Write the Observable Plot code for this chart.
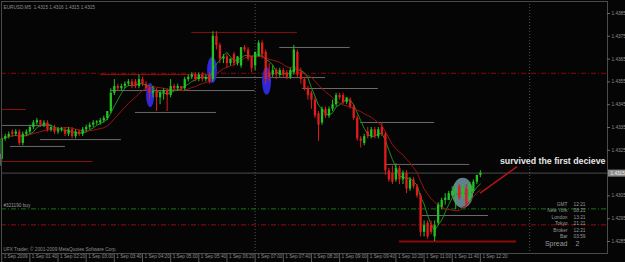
<!DOCTYPE html>
<html>
<head>
<meta charset="utf-8">
<script src="https://cdn.jsdelivr.net/npm/d3@7"></script>
<script src="https://cdn.jsdelivr.net/npm/@observablehq/plot@0.6"></script>
<style>
html, body { margin: 0; padding: 0; background: #050505; overflow: hidden; }
#chart svg { display: block; }
</style>
</head>
<body>
<div id="chart"></div>
<script>
// ---------------- data ----------------
const titleText = "EURUSD,M5  1.4315 1.4316 1.4315 1.4315";
// M5 bars, 1 Sep 2009 01:00 .. 12:20 (137 bars)
const open = [
1.4321,1.4330,1.4331,1.4333,1.4332,1.4333,1.4328,1.4332,1.4333,1.4335,
1.4337,1.4338,1.4336,1.4337,1.4334,1.4335,1.4333,1.4334,1.4334,1.4332,
1.4334,1.4331,1.4333,1.4332,1.4334,1.4335,1.4336,1.4337,1.4337,1.4338,
1.4339,1.4342,1.4350,1.4353,1.4352,1.4353,1.4354,1.4355,1.4355,1.4353,
1.4356,1.4354,1.4352,1.4350,1.4351,1.4348,1.4350,1.4351,1.4349,1.4353,
1.4352,1.4353,1.4352,1.4356,1.4357,1.4358,1.4356,1.4358,1.4356,1.4358,
1.4356,1.4375,1.4371,1.4365,1.4366,1.4363,1.4367,1.4363,1.4362,1.4370,
1.4369,1.4366,1.4362,1.4366,1.4372,1.4368,1.4359,1.4358,1.4360,1.4358,
1.4360,1.4359,1.4357,1.4359,1.4368,1.4359,1.4356,1.4352,1.4350,1.4347,
1.4341,1.4337,1.4343,1.4340,1.4343,1.4345,1.4349,1.4349,1.4346,1.4347,
1.4344,1.4339,1.4330,1.4328,1.4333,1.4331,1.4334,1.4331,1.4335,1.4332,
1.4316,1.4315,1.4312,1.4317,1.4312,1.4315,1.4308,1.4312,1.4309,1.4305,
1.4289,1.4293,1.4292,1.4287,1.4293,1.4300,1.4303,1.4303,1.4305,1.4307,
1.4309,1.4305,1.4308,1.4303,1.4307,1.4311,1.4314];
const high = [
1.4332,1.4332,1.4333,1.4334,1.4334,1.4334,1.4333,1.4334,1.4336,1.4338,
1.4339,1.4338,1.4338,1.4338,1.4336,1.4336,1.4335,1.4335,1.4335,1.4335,
1.4335,1.4334,1.4334,1.4335,1.4336,1.4337,1.4338,1.4338,1.4339,1.4340,
1.4342,1.4352,1.4356,1.4354,1.4354,1.4355,1.4356,1.4356,1.4356,1.4358,
1.4357,1.4355,1.4353,1.4353,1.4352,1.4351,1.4352,1.4352,1.4356,1.4354,
1.4354,1.4353,1.4357,1.4358,1.4359,1.4359,1.4359,1.4359,1.4358,1.4359,
1.4377,1.4377,1.4372,1.4367,1.4367,1.4365,1.4368,1.4366,1.4370,1.4371,
1.4370,1.4366,1.4368,1.4373,1.4373,1.4369,1.4363,1.4362,1.4361,1.4361,
1.4361,1.4360,1.4361,1.4371,1.4369,1.4361,1.4357,1.4353,1.4351,1.4348,
1.4342,1.4344,1.4344,1.4344,1.4347,1.4350,1.4350,1.4350,1.4348,1.4348,
1.4345,1.4340,1.4331,1.4332,1.4335,1.4335,1.4335,1.4335,1.4337,1.4333,
1.4317,1.4318,1.4319,1.4318,1.4316,1.4316,1.4313,1.4313,1.4310,1.4306,
1.4294,1.4294,1.4294,1.4294,1.4302,1.4304,1.4306,1.4307,1.4309,1.4310,
1.4310,1.4310,1.4310,1.4311,1.4312,1.4314,1.4316];
const low = [
1.4320,1.4329,1.4330,1.4331,1.4331,1.4327,1.4327,1.4331,1.4332,1.4334,
1.4336,1.4335,1.4335,1.4333,1.4333,1.4332,1.4332,1.4333,1.4331,1.4331,
1.4330,1.4330,1.4331,1.4331,1.4333,1.4334,1.4335,1.4336,1.4336,1.4337,
1.4338,1.4341,1.4349,1.4351,1.4351,1.4352,1.4353,1.4352,1.4352,1.4352,
1.4353,1.4351,1.4347,1.4348,1.4342,1.4345,1.4347,1.4342,1.4348,1.4351,
1.4351,1.4351,1.4351,1.4355,1.4356,1.4355,1.4355,1.4355,1.4355,1.4354,
1.4355,1.4369,1.4363,1.4363,1.4361,1.4362,1.4362,1.4362,1.4361,1.4368,
1.4364,1.4359,1.4360,1.4366,1.4365,1.4354,1.4355,1.4357,1.4356,1.4357,
1.4357,1.4356,1.4356,1.4358,1.4357,1.4354,1.4351,1.4347,1.4343,1.4339,
1.4329,1.4336,1.4339,1.4339,1.4342,1.4344,1.4347,1.4345,1.4345,1.4343,
1.4338,1.4329,1.4326,1.4327,1.4330,1.4330,1.4330,1.4330,1.4331,1.4314,
1.4311,1.4310,1.4311,1.4310,1.4310,1.4306,1.4307,1.4308,1.4304,1.4287,
1.4287,1.4286,1.4288,1.4285,1.4292,1.4299,1.4301,1.4303,1.4304,1.4299,
1.4303,1.4304,1.4300,1.4302,1.4306,1.4310,1.4313];
const close = [
1.4330,1.4331,1.4332,1.4332,1.4333,1.4328,1.4332,1.4333,1.4335,1.4337,
1.4338,1.4336,1.4337,1.4334,1.4335,1.4333,1.4334,1.43345,1.4332,1.4334,
1.4331,1.4333,1.4332,1.4334,1.4335,1.4336,1.4337,1.43375,1.4338,1.4339,
1.4342,1.4350,1.4353,1.4352,1.4353,1.4354,1.4355,1.4353,1.4353,1.4356,
1.4354,1.4352,1.4350,1.4351,1.4348,1.4350,1.4351,1.4349,1.4353,1.4352,
1.4353,1.4352,1.4356,1.4357,1.4358,1.4356,1.4358,1.4356,1.4357,1.4355,
1.4375,1.4371,1.4365,1.4366,1.4363,1.4365,1.4363,1.4366,1.4370,1.4369,
1.4365,1.4361,1.4368,1.4372,1.4367,1.4356,1.4357,1.4360,1.4358,1.4360,
1.4358,1.4357,1.4360,1.4369,1.4358,1.4356,1.4352,1.4349,1.4347,1.4340,
1.4336,1.4343,1.4340,1.4343,1.4345,1.4349,1.4348,1.4346,1.4348,1.4344,
1.4339,1.4330,1.4329,1.4331,1.4331,1.4334,1.4331,1.4334,1.4332,1.4316,
1.4312,1.4311,1.4317,1.4312,1.4315,1.4308,1.4312,1.4309,1.4305,1.4289,
1.4292,1.4287,1.4289,1.4292,1.4301,1.4303,1.4304,1.4306,1.4307,1.4308,
1.4304,1.4308,1.4301,1.4310,1.4311,1.4314,1.4315];

const priceTicks = [1.4285,1.4295,1.4305,1.4325,1.4335,1.4345,1.4355,1.4365,1.4375,1.4385];
const timeTickBars = [0,8,16,24,32,40,48,56,64,72,80,88,96,104,112,120,128,136];
const timeTickLabels = ["1 Sep 2009","1 Sep 01:40","1 Sep 02:20","1 Sep 03:00","1 Sep 03:40","1 Sep 04:20",
  "1 Sep 05:00","1 Sep 05:40","1 Sep 06:20","1 Sep 07:00","1 Sep 07:40","1 Sep 08:20","1 Sep 09:00",
  "1 Sep 09:40","1 Sep 10:20","1 Sep 11:00","1 Sep 11:40","1 Sep 12:20"];
const bid = 1.4315;

// order lines (full width): take-profit-ish, buy entry, stop
const orderPrices = [1.43588, 1.42993, 1.42923];
const orderKinds = ["red", "green", "red2"];
const orderLabel = "#321190 buy";

// vertical separators (bar index)
const vlineBars = [72, 150];

// drawn horizontal levels
const levelPrice = [1.43767,1.43582,1.43429,1.43201,1.43359,1.43297,1.43267,1.43416,1.43512,1.43521,1.43569,1.43701,1.43372,1.43188,1.42964,1.4285];
const levelFrom  = [54, 28, 0, 0, 0, 11, 2.5, 38, 31, 85.5, 55, 79, 102, 109, 119.5, 113];
const levelTo    = [84, 60.7, 7, 26, 13.9, 34, 18.1, 61, 72, 107, 92, 99, 123, 133, 138.3, 146.3];
const levelKind  = ["r","r","r","r","g","g","g","g","g","g","g","g","g","g","g","R"];

// highlighted zones (ellipses)
const ellipseBar   = [42.3, 59.9, 75.4, 131.1];
const ellipsePrice = [1.4349, 1.4360, 1.43552, 1.43061];
const ellipseBarHalf = [1.14, 1.42, 1.28, 2.98];
const ellipsePriceHalf = [0.00053, 0.00057, 0.00061, 0.00066];
const ellipseKind = ["blue","blue","blue","teal"];

// trend line
const trendBars = [136, 146.3];
const trendPrices = [1.43063, 1.43177];

const noteText = "survived the first decieve";
const infoLabels = ["GMT","New York","London","Tokyo","Broker","Bar"];
const infoValues = ["12:21","08:21","13:21","21:21","12:21","03:59"];
const spreadLabel = "Spread";
const spreadValue = "2";
const copyrightText = "UFX Trader, \u00a9 2001-2009 MetaQuotes Software Corp.";

// ---------------- chart ----------------
const bars = open.map((o, i) => ({i, open: o, high: high[i], low: low[i], close: close[i]}));
const W = 625, H = 262, ML = 1, MR = 18, MT = 1, MB = 9;
const FW = W - ML - MR, FH = H - MT - MB;
const GREEN = "#22c322", RED = "#e01c1c", TXT = "#8e8e8e", FONT = "'Liberation Sans', Arial, sans-serif";
const candleColor = d => d.close >= d.open ? GREEN : RED;
const orderColor = {red: "#8a0a0a", green: "#137a13", red2: "#9a0c0c"};
const levelColor = {r: "#8c1010", g: "#6a6a6a", R: "#8a0a0a"};
const levelIdx = levelPrice.map((_, i) => i);
const small = {fontSize: 4.7, fill: TXT};

const infoRowsDy = [-48, -41.5, -35, -28.5, -22, -15.5];

const chart = Plot.plot({
  width: W, height: H,
  marginLeft: ML, marginRight: MR, marginTop: MT, marginBottom: MB,
  x: {domain: [0, 136], range: [1.2, 479.9], axis: null},
  y: {domain: [1.4285, 1.4385], range: [241, 13], axis: null},
  color: {type: "identity"},
  style: {background: "#050505", color: TXT, fontFamily: FONT, overflow: "visible"},
  marks: [
    Plot.ruleX(vlineBars, {x: d => d, stroke: "#555", strokeDasharray: "1,2"}),
    Plot.ruleY(orderPrices, {y: d => d, stroke: (d, i) => orderColor[orderKinds[i]], strokeDasharray: "5,2,1,2"}),
    Plot.ruleY([bid], {y: d => d, stroke: "#4c4c4c"}),
    Plot.ruleY(levelIdx, {y: i => levelPrice[i], x1: i => levelFrom[i], x2: i => levelTo[i],
      stroke: i => levelColor[levelKind[i]], strokeWidth: i => levelKind[i] === "R" ? 2 : 1}),
    Plot.line(trendBars.map((b, k) => ({b, p: trendPrices[k]})), {x: "b", y: "p", stroke: "#b01414"}),
    Plot.lineY(bars, Plot.windowY({k: 5, anchor: "end", strict: false}, {x: "i", y: "close", stroke: "#1b8f1b", strokeWidth: 1})),
    Plot.lineY(bars, Plot.windowY({k: 12, anchor: "end", strict: false}, {x: "i", y: "close", stroke: "#9b1212", strokeWidth: 1})),
    Plot.ruleX(bars, {x: "i", y1: "low", y2: "high", stroke: candleColor, strokeWidth: 1}),
    Plot.ruleX(bars, {x: "i", y1: "open", y2: "close", stroke: candleColor, strokeWidth: 2.3}),
    Plot.frame({stroke: "#4a4a4a"}),
    // right price axis
    Plot.ruleY(priceTicks, {y: d => d, insetLeft: FW, insetRight: -3, stroke: "#6a6a6a"}),
    Plot.text(priceTicks, {y: d => d, text: d => d.toFixed(4), frameAnchor: "right", dx: 4, textAnchor: "start", ...small}),
    Plot.ruleY([bid], {y: d => d, insetLeft: FW + 1, insetRight: -MR, stroke: "#8a8a8a", strokeWidth: 7}),
    Plot.text([bid], {y: d => d, text: d => d.toFixed(4), frameAnchor: "right", dx: 3, textAnchor: "start", fontSize: 4.7, fill: "#f0f0f0"}),
    // time axis
    Plot.ruleX(timeTickBars, {x: d => d, insetTop: FH, insetBottom: -MB, stroke: "#5a5a5a"}),
    Plot.text(timeTickBars, {x: d => d, text: (d, i) => timeTickLabels[i], frameAnchor: "bottom", dy: 4.8, dx: 2, textAnchor: "start", ...small}),
    // texts
    Plot.text([titleText], {frameAnchor: "top-left", dx: 2, dy: 4, textAnchor: "start", ...small}),
    Plot.text([orderLabel], {y: () => orderPrices[1], frameAnchor: "left", dx: 2, dy: -3.2, textAnchor: "start", fontSize: 4.7, fill: "#9a9a9a"}),
    Plot.text([copyrightText], {frameAnchor: "bottom-left", dx: 2, dy: -3, textAnchor: "start", ...small}),
    ...infoLabels.map((t, k) => Plot.text([t], {frameAnchor: "bottom-right", dx: -40, dy: infoRowsDy[k], textAnchor: "end", fontSize: 4.8, fill: "#9a9a9a"})),
    ...infoValues.map((t, k) => Plot.text([t], {frameAnchor: "bottom-right", dx: -34, dy: infoRowsDy[k], textAnchor: "start", fontSize: 4.8, fill: "#9a9a9a"})),
    Plot.text([spreadLabel], {frameAnchor: "bottom-right", dx: -40, dy: -8, textAnchor: "end", fontSize: 7, fill: "#9a9a9a"}),
    Plot.text([spreadValue], {frameAnchor: "bottom-right", dx: -32, dy: -8, textAnchor: "start", fontSize: 7, fill: "#9a9a9a"}),
    Plot.text([noteText], {frameAnchor: "top-right", dx: -2, dy: 156, textAnchor: "end", fontSize: 8.8, fontWeight: "bold", fill: "#e6e6e6"})
  ]
});
document.getElementById("chart").appendChild(chart);

// ellipses behind the MA lines / candles, placed with the chart's scales
const sx = chart.scale("x"), sy = chart.scale("y");
const firstLine = chart.querySelector('g[aria-label="line"]');
const eg = document.createElementNS("http://www.w3.org/2000/svg", "g");
chart.insertBefore(eg, firstLine);
d3.select(eg).selectAll("ellipse").data(ellipseBar).join("ellipse")
  .attr("cx", (d, k) => sx.apply(d))
  .attr("cy", (d, k) => sy.apply(ellipsePrice[k]))
  .attr("rx", (d, k) => Math.abs(sx.apply(d + ellipseBarHalf[k]) - sx.apply(d)))
  .attr("ry", (d, k) => Math.abs(sy.apply(ellipsePrice[k] + ellipsePriceHalf[k]) - sy.apply(ellipsePrice[k])))
  .attr("fill", (d, k) => ellipseKind[k] === "blue" ? "#2e28d8" : "#6f98a4")
  .attr("fill-opacity", (d, k) => ellipseKind[k] === "blue" ? 1 : 0.85);

// box around the note text
const noteNode = Array.from(chart.querySelectorAll("text")).find(t => t.textContent === noteText);
if (noteNode) {
  const bb = noteNode.getBBox();
  const r = document.createElementNS("http://www.w3.org/2000/svg", "rect");
  r.setAttribute("x", bb.x - 1.5); r.setAttribute("y", bb.y - 0.5);
  r.setAttribute("width", bb.width + 3); r.setAttribute("height", bb.height + 1);
  r.setAttribute("fill", "#050505"); r.setAttribute("stroke", "#8896a0");
  noteNode.parentNode.insertBefore(r, noteNode);
}
</script>
</body>
</html>
